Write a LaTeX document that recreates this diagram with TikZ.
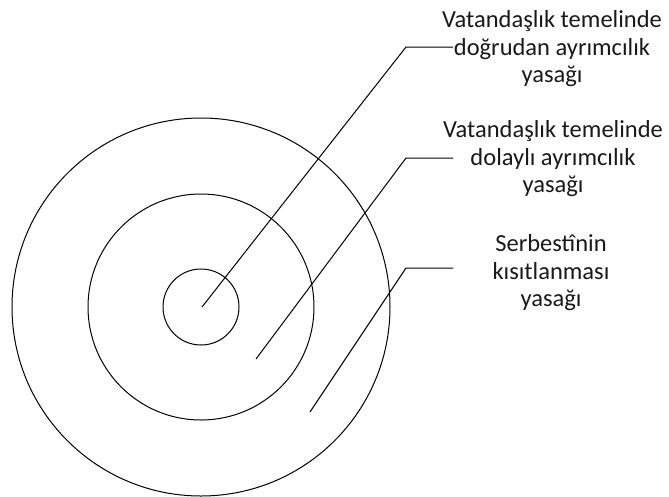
\documentclass[tikz,border=0pt]{standalone}
\usepackage{fontspec}
\setmainfont{Carlito}
\begin{document}
\begin{tikzpicture}[x=1pt,y=-1pt,
  ring/.style={draw=black,line width=1pt},
  leader/.style={draw=black,line width=1pt},
  label/.style={align=center,inner sep=0pt,font=\fontsize{24.5}{27.5}\selectfont,text=black!90}]
\useasboundingbox (0,0) rectangle (669,496);
\node[ring,circle,minimum size=378pt,inner sep=0pt] (outer) at (201,307) {};
\node[ring,circle,minimum size=226pt,inner sep=0pt] (middle) at (201,307) {};
\node[ring,circle,minimum size=76pt,inner sep=0pt] (inner) at (201,307) {};
\coordinate (p1) at (202,307);
\coordinate (p2) at (256,359);
\coordinate (p3) at (310,412);
\coordinate (e1) at (406,47);
\coordinate (e2) at (406,158);
\coordinate (e3) at (406,268);
\coordinate (h1) at (453,47);
\coordinate (h2) at (453,158);
\coordinate (h3) at (453,268);
\node[label] (t1) at (552,49) {Vatandaşlık temelinde\\doğrudan ayrımcılık\\yasağı};
\node[label] (t2) at (553,159) {Vatandaşlık temelinde\\dolaylı ayrımcılık\\yasağı};
\node[label] (t3) at (551,273) {Serbestînin\\kısıtlanması\\yasağı};
\draw[leader] (p1) -- (e1) -- (h1);
\draw[leader] (p2) -- (e2) -- (h2);
\draw[leader] (p3) -- (e3) -- (h3);
\end{tikzpicture}
\end{document}
